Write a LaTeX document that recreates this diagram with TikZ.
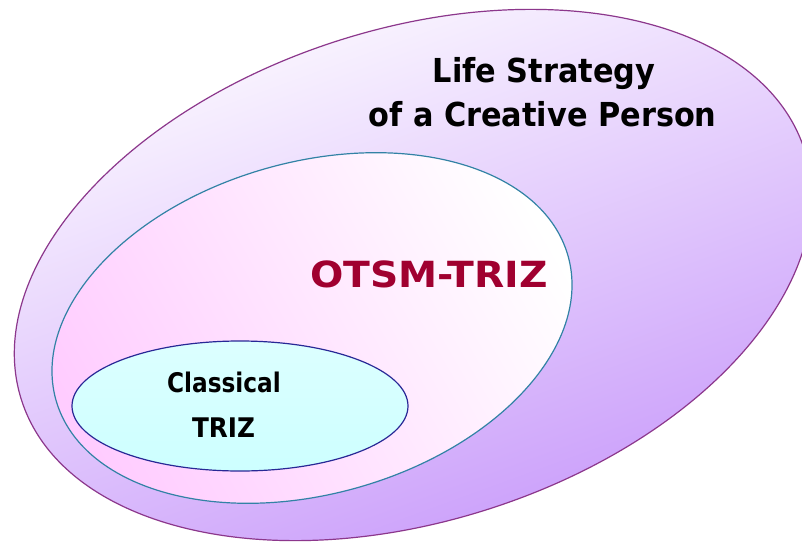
\documentclass[tikz,border=0pt]{standalone}
\usepackage{fontspec}
\usepackage{graphicx}
\newfontfamily\vfont{DejaVu Sans}
\definecolor{outerpurple}{RGB}{198,150,250}
\definecolor{outerline}{RGB}{140,55,140}
\definecolor{midpink}{RGB}{255,204,255}
\definecolor{midline}{RGB}{50,130,165}
\definecolor{innercyan}{RGB}{205,255,255}
\definecolor{innerline}{RGB}{40,40,150}
\definecolor{otsmred}{RGB}{160,0,48}
\tikzset{
  lbl/.style={inner sep=0pt, anchor=base},
  outerell/.style={draw=outerline, line width=1.2pt, shading=axis, top color=white, middle color=outerpurple!50!white, bottom color=outerpurple, shading angle=20},
  midell/.style={draw=midline, line width=1.2pt, shading=axis, top color=white, bottom color=midpink, shading angle=-60},
  innerell/.style={draw=innerline, line width=1.2pt, shading=axis, top color=innercyan!70!white, middle color=white, bottom color=innercyan}
}
\begin{document}
\begin{tikzpicture}[x=1pt,y=1pt]
\useasboundingbox (0,0) rectangle (802,542);
\clip (0,0) rectangle (802,542);
\fill[white] (0,0) rectangle (802,542);
% outer ellipse
\shade[outerell, rotate around={17.7:(413,267)}] (413,267) ellipse [x radius=411pt, y radius=246pt];
% middle ellipse
\shade[midell, rotate around={15.7:(312,214)}] (312,214) ellipse [x radius=266pt, y radius=166pt];
% inner ellipse
\shade[innerell] (240,136) ellipse [x radius=168pt, y radius=65pt];
% texts
\node[lbl, font=\vfont\bfseries\fontsize{33}{33}\selectfont] (l1) at (544,459) {\scalebox{0.92}[1]{Life Strategy}};
\node[lbl, font=\vfont\bfseries\fontsize{33}{33}\selectfont] (l2) at (542.5,415.3) {\scalebox{0.92}[1]{of a Creative Person}};
\node[lbl, text=otsmred, font=\vfont\bfseries\fontsize{36}{36}\selectfont] (otsm) at (429,254.3) {\scalebox{1.09}[1]{OTSM-TRIZ}};
\node[lbl, font=\vfont\bfseries\fontsize{27}{27}\selectfont] (c1) at (224,150) {\scalebox{0.86}[1]{Classical}};
\node[lbl, font=\vfont\bfseries\fontsize{27}{27}\selectfont] (c2) at (223.5,105) {\scalebox{0.915}[1]{TRIZ}};
\end{tikzpicture}
\end{document}
